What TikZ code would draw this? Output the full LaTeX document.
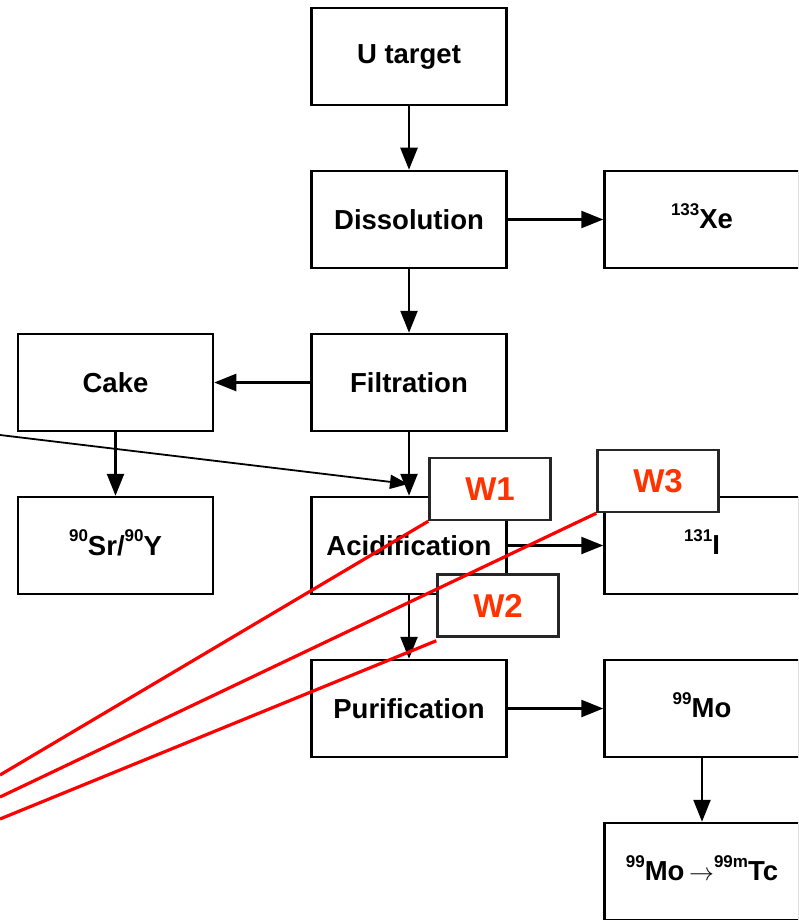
\documentclass[tikz,border=0pt]{standalone}
\usepackage{fontspec}
\setmainfont{Liberation Sans}
\usetikzlibrary{arrows.meta}
\newcommand\isot[1]{\smash{\raisebox{0.5em}{\fontsize{17}{17}\selectfont #1}}}
\tikzset{
  procbox/.style={draw=black, line width=2.5pt, fill=white, minimum width=195pt, minimum height=97pt, inner sep=0pt, font=\fontsize{27.5}{27.5}\selectfont\bfseries},
  wbox/.style={draw=black!85, line width=2.5pt, fill=white, minimum width=121pt, minimum height=62pt, inner sep=0pt, text=wred, font=\fontsize{33}{33}\selectfont\bfseries},
  flow/.style={line width=2.5pt, -{Triangle[length=22pt,width=17pt]}},
  thinflow/.style={line width=1.8pt, -{Triangle[length=18pt,width=14pt]}},
  redline/.style={draw=red, line width=3.2pt}
}
\definecolor{wred}{RGB}{255,51,0}
\begin{document}
\begin{tikzpicture}[x=1pt,y=-1pt]
\useasboundingbox (0,0) rectangle (798,920);
\clip (0,0) rectangle (798,920);
% process boxes
\node[procbox] (ut)   at (409,56.5)  {U target};
\node[procbox] (dis)  at (409,219.5) {Dissolution};
\node[procbox] (xe)   at (702,219.5) {\isot{133}Xe};
\node[procbox] (fil)  at (409,382.5) {Filtration};
\node[procbox] (cake) at (115.5,382.5) {Cake};
\node[procbox] (sr)   at (115.5,545.5) {\isot{90}Sr/\isot{90}Y};
\node[procbox] (acid) at (409,545.5) {Acidification};
\node[procbox] (iod)  at (702,545.5) {\isot{131}I};
\node[procbox] (pur)  at (409,708.5) {Purification};
\node[procbox] (mo)   at (702,708.5) {\isot{99}Mo};
\node[procbox] (tc)   at (702,871.5) {\isot{99}Mo\,{\fontsize{31}{31}\selectfont$\rightarrow$}\isot{99m}Tc};
% connectors
\draw[flow] (ut) -- (dis);
\draw[flow] (dis) -- (xe);
\draw[flow] (dis) -- (fil);
\draw[flow] (fil) -- (cake);
\draw[flow] (cake) -- (sr);
\draw[flow] (fil) -- (acid);
\draw[flow] (acid) -- (iod);
\draw[flow] (acid) -- (pur);
\draw[flow] (pur) -- (mo);
\draw[flow] (mo) -- (tc);
\coordinate (lin) at (0,435);
\coordinate (lintip) at (408,484);
\draw[thinflow] (lin) -- (lintip);
% waste boxes
\node[wbox] (w1) at (490,489)   {W1};
\node[wbox] (w2) at (498,605.5) {W2};
\node[wbox] (w3) at (658,481)   {W3};
% red lines
\coordinate (r1) at (0,775);
\coordinate (r2) at (0,797);
\coordinate (r3) at (0,819);
\draw[redline] (w1.south west) -- (r1);
\draw[redline] (w3.south west) -- (r2);
\draw[redline] ([yshift=-3pt]w2.south west) -- (r3);
\end{tikzpicture}
\end{document}
